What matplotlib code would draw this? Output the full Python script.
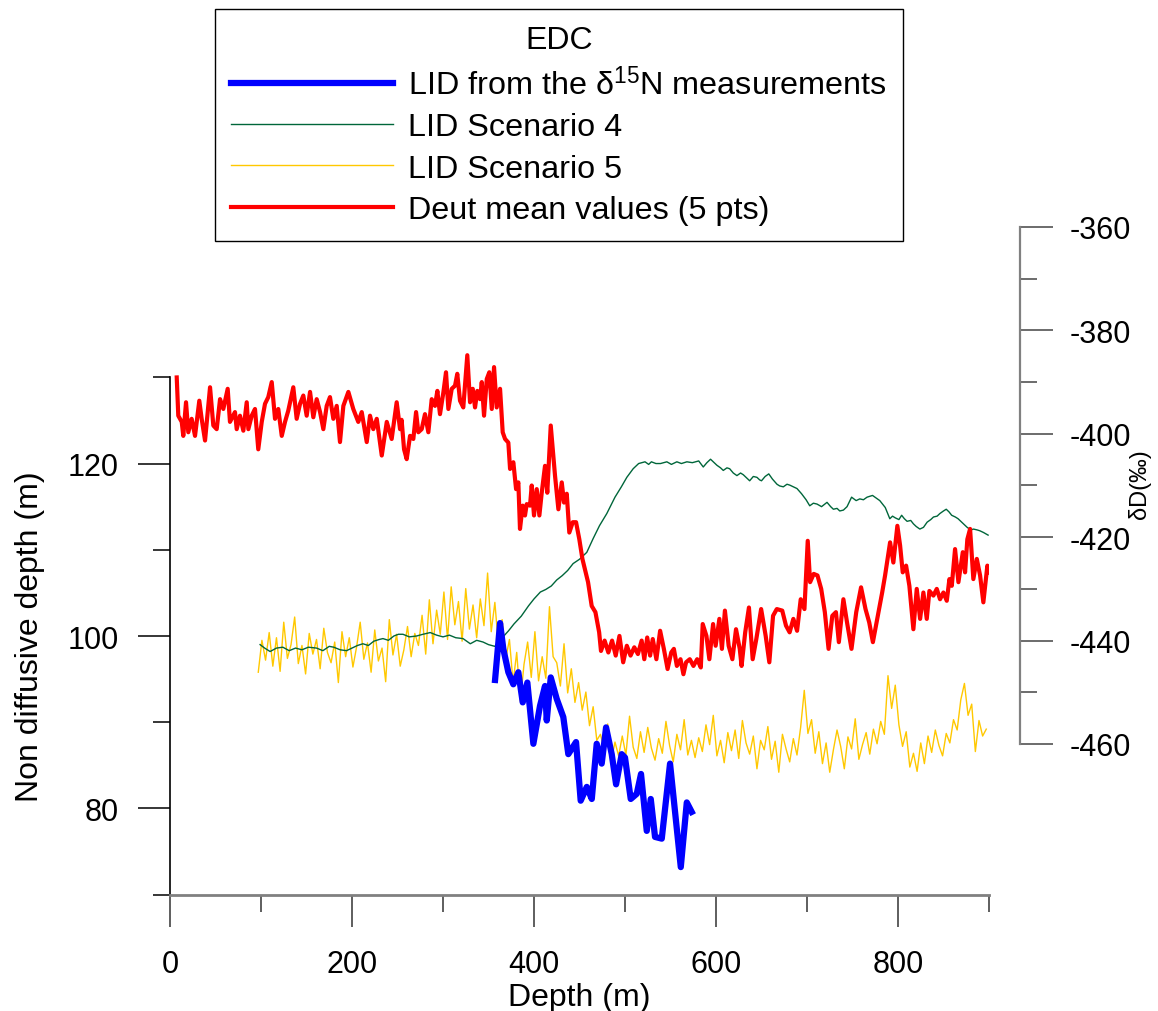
import numpy as np
import matplotlib
matplotlib.use('Agg')
import matplotlib.pyplot as plt

plt.rcParams['font.family'] = ['Liberation Sans', 'DejaVu Sans']
plt.rcParams['mathtext.fontset'] = 'custom'
plt.rcParams['mathtext.rm'] = 'Liberation Sans'
plt.rcParams['mathtext.it'] = 'Liberation Sans:italic'
plt.rcParams['axes.unicode_minus'] = False

# ---- data (depth in m) ----
red_depth = [
    7.4, 9.1, 12.9, 14.6, 17.6, 20.1, 23.8, 27.5, 32.2, 34.8,
    38.5, 44.0, 47.6, 51.3, 55.0, 58.6, 63.4, 65.9, 71.4, 73.3,
    76.9, 80.6, 84.3, 86.1, 89.8, 93.4, 97.0, 100.8, 104.4, 108.0,
    111.8, 115.4, 119.0, 122.8, 126.4, 130.0, 135.5, 139.2, 142.9, 146.5,
    150.2, 153.9, 157.5, 161.2, 164.9, 168.5, 172.2, 175.8, 179.5, 183.2,
    186.8, 190.5, 196.0, 201.4, 206.9, 210.7, 216.2, 219.8, 223.4, 227.2,
    232.7, 238.2, 243.6, 249.1, 252.8,
    254.5, 257.2, 260.1, 263.8, 267.4, 270.4, 272.9, 276.6, 280.2, 283.9,
    287.6, 291.2, 293.8, 296.7, 300.4, 303.3, 305.9, 309.6, 313.2, 315.7,
    318.7, 322.3, 326.7, 329.7, 332.7, 335.2, 337.7, 340.7, 342.6, 345.1,
    348.1, 350.9, 353.6, 356.1, 359.0, 362.7, 365.6, 368.2, 371.8, 373.7,
    377.3, 380.3, 382.8, 384.6, 387.6, 390.1, 392.0, 395.6, 397.5, 400.0,
    403.0, 405.9, 408.5, 412.1, 414.6, 418.4, 420.6, 423.1, 426.8, 430.5,
    433.0, 436.0, 438.8, 442.6, 446.2, 449.8,
    453.2, 459.4, 463.4, 467.5, 471.6, 473.6, 477.6, 481.7, 485.8, 489.8,
    493.9, 498.0, 502.0, 506.1, 510.2, 514.2, 518.3, 521.2, 524.4, 527.6,
    530.5, 534.5, 538.6, 542.7, 546.8, 550.8, 553.7, 557.0, 561.0, 564.2,
    567.1, 571.2, 575.2, 579.3, 583.3,
    585.4, 589.5, 592.7, 596.8, 599.6, 603.7, 606.5, 609.8, 613.9, 618.0,
    622.0, 626.1, 628.1, 632.1, 636.2, 640.3, 644.3, 649.6, 654.6, 658.6,
    662.7, 666.8, 672.8, 676.9, 680.9, 685.0, 689.1, 693.1, 697.2,
    700.8, 703.4, 707.4, 711.5, 715.6, 719.6, 723.7, 727.8, 731.8, 735.0,
    740.0, 744.0, 748.9, 754.1, 759.4, 764.3, 768.4, 772.4, 776.4, 782.6,
    785.8, 791.3, 794.9, 799.3, 802.3, 805.2, 808.9, 812.5, 816.9, 820.6,
    824.3, 827.9, 831.6, 834.5, 838.9, 842.6, 846.2, 849.9, 853.6, 856.5,
    859.1, 862.7, 866.4, 871.2, 873.7, 876.2, 879.2, 882.8, 886.6, 890.2,
    893.8, 898.2, 899.3,
]
red_dD = [
    -389.1, -396.5, -397.7, -400.4, -393.9, -399.7, -397.1, -400.4, -393.6, -397.1,
    -401.3, -391.0, -398.4, -399.1, -393.3, -395.2, -391.3, -397.7, -395.8, -399.1,
    -396.5, -399.4, -393.9, -399.1, -396.5, -395.2, -403.0, -397.7, -394.2, -392.9,
    -390.0, -397.1, -395.2, -400.4, -397.7, -395.5, -391.0, -397.1, -394.2, -392.6,
    -396.5, -391.9, -396.8, -393.3, -395.8, -399.1, -394.6, -392.9, -397.1, -394.6,
    -401.6, -394.6, -391.9, -395.2, -397.7, -395.8, -401.6, -396.5, -399.1, -397.1,
    -404.2, -397.7, -401.0, -393.9, -399.1,
    -397.3, -403.0, -404.9, -400.4, -401.0, -395.8, -399.7, -399.1, -396.2, -399.7,
    -393.3, -394.6, -391.7, -396.2, -392.0, -388.1, -395.2, -391.3, -390.7, -388.4,
    -393.6, -394.9, -384.8, -393.9, -391.3, -394.9, -391.7, -393.3, -390.0, -396.5,
    -389.4, -388.1, -395.2, -387.1, -394.9, -391.3, -399.7, -401.0, -401.7, -406.8,
    -405.5, -410.7, -409.4, -418.4, -413.9, -415.8, -413.6, -413.9, -410.0, -415.8,
    -410.7, -415.8, -411.4, -406.2, -411.4, -398.4, -403.0, -408.1, -414.6, -409.4,
    -413.3, -411.6, -419.1, -417.1, -417.1, -420.4,
    -424.2, -428.7, -433.3, -434.5, -438.4, -442.0, -440.0, -442.3, -440.0, -442.9,
    -439.1, -444.2, -441.0, -442.9, -441.3, -442.6, -440.0, -443.6, -439.4, -442.9,
    -439.7, -443.6, -438.1, -441.6, -445.5, -442.3, -441.6, -444.9, -443.6, -446.5,
    -444.2, -443.6, -444.9, -443.6, -445.2,
    -436.8, -439.1, -443.6, -436.8, -441.0, -435.8, -441.6, -434.2, -441.0, -443.6,
    -437.8, -441.6, -444.9, -438.4, -433.6, -443.6, -439.7, -433.9, -439.1, -444.2,
    -435.2, -433.9, -434.2, -437.1, -438.4, -435.8, -438.1, -432.0, -433.9,
    -420.7, -428.7, -427.1, -427.4, -430.0, -434.5, -441.6, -435.2, -434.5, -440.3,
    -432.0, -436.5, -441.6, -434.5, -429.7, -433.9, -436.5, -440.3, -436.5, -430.7,
    -427.4, -421.0, -424.9, -417.8, -421.6, -426.8, -425.5, -429.4, -437.8, -430.0,
    -435.8, -430.7, -435.8, -430.4, -431.3, -430.0, -432.0, -430.7, -432.3, -428.1,
    -429.4, -422.3, -428.7, -422.9, -426.8, -420.4, -418.4, -428.1, -424.2, -427.4,
    -432.6, -425.5, -426.8,
]

blue_depth = [357.2, 362.7, 366.3, 371.8, 377.3, 382.8, 387.6, 392.7, 399.3, 406.6,
              412.1, 414.0, 418.4, 425.0, 432.2, 437.7, 446.2, 451.3, 458.0, 463.5,
              468.9, 474.4, 479.2, 485.4, 490.2, 496.4, 500.0, 506.3, 512.9, 517.6,
              523.9, 528.3, 533.0, 540.4, 549.5, 561.3, 567.9, 573.3]
blue_lid = [94.9, 101.5, 98.5, 95.8, 94.4, 95.8, 92.3, 94.6, 87.5, 91.9,
            94.2, 90.2, 95.2, 92.7, 90.6, 86.3, 87.7, 80.9, 82.5, 81.1,
            87.5, 85.2, 89.4, 86.3, 82.8, 86.3, 85.9, 81.1, 81.7, 84.0,
            77.4, 81.1, 76.7, 76.5, 85.2, 73.2, 80.7, 79.6]

green_depth = [
    99, 104, 110, 117, 124, 131, 138, 145, 152, 161,
    168, 175, 180, 187, 194, 200, 206, 212, 218, 224,
    230, 234, 240, 246, 251, 256, 263, 271, 278, 286,
    293, 300, 307, 314, 322, 330, 337, 344, 350, 357,
    362, 366, 372, 378, 386, 394, 400, 407, 413, 419,
    425, 431, 437, 443, 450, 454, 458, 465, 472, 480,
    489, 496, 502, 509, 515, 522, 526, 529, 534, 539,
    546, 551, 557, 562, 568, 574, 581, 586, 590, 594,
    598, 601, 605, 608, 612, 615, 619, 623, 627, 630,
    634, 637, 641, 645, 648, 650, 654, 658, 662, 667,
    670, 674, 678, 681, 685, 689, 694, 699, 703, 707,
    711, 716, 722, 726, 729, 733, 736, 740, 744, 749,
    754, 758, 762, 766, 772, 776, 780, 786, 791, 794,
    797, 801, 804, 807, 810, 814, 817, 820, 824, 828,
    832, 836, 839, 843, 846, 850, 853, 856, 859, 863,
    866, 870, 876, 880, 883, 887, 890, 894, 899,
]
green_lid = [
    99.0, 98.6, 98.2, 98.6, 98.7, 98.3, 98.6, 98.4, 98.7, 98.6,
    98.3, 98.8, 98.7, 98.4, 98.3, 98.6, 98.9, 99.1, 98.9, 99.4,
    99.6, 99.7, 99.5, 100.0, 100.2, 100.2, 99.9, 100.0, 100.2, 100.4,
    100.1, 99.9, 100.1, 99.8, 99.7, 99.1, 99.5, 99.3, 99.0, 98.8,
    99.4, 99.9, 100.6, 101.4, 102.3, 103.5, 104.3, 105.1, 105.4, 105.8,
    106.5, 107.0, 107.6, 108.4, 108.9, 109.3, 109.7, 111.3, 112.8, 114.2,
    116.1, 117.3, 118.4, 119.4, 120.0, 120.2, 119.9, 120.2, 120.0, 120.0,
    120.2, 119.9, 120.2, 120.0, 120.2, 120.1, 120.3, 119.6, 120.1, 120.5,
    120.1, 119.8, 119.5, 119.2, 119.5, 119.4, 118.9, 118.6, 118.9, 118.7,
    118.3, 118.0, 118.5, 118.4, 118.1, 118.0, 118.5, 118.8, 118.2, 117.6,
    117.4, 117.3, 117.6, 117.5, 117.3, 117.1, 116.5, 115.8, 115.1, 115.4,
    115.3, 115.0, 115.5, 115.0, 114.7, 114.8, 114.5, 114.6, 115.0, 116.1,
    115.7, 115.9, 115.8, 116.1, 116.3, 116.0, 115.7, 114.9, 113.6, 113.9,
    113.7, 113.5, 114.0, 113.6, 113.3, 113.4, 113.0, 112.7, 112.4, 112.6,
    113.2, 113.5, 113.8, 113.9, 114.2, 114.5, 114.7, 114.4, 114.0, 113.8,
    113.6, 113.2, 112.6, 112.3, 112.4, 112.3, 112.2, 112.0, 111.7,
]

# scenario 5 sampled every 4 m from 97 m
yellow_depth = np.arange(97, 898, 4)
yellow_lid = [
    95.8, 99.5, 97.2, 100.4, 96.5, 99.8, 95.9, 101.6, 97.4, 99.0,
    102.2, 96.8, 98.9, 95.6, 100.3, 97.9, 99.6, 96.2, 100.9, 98.1,
    96.9, 99.3, 94.6, 100.5, 97.6, 99.8, 96.4, 98.7, 101.6, 97.3,
    99.2, 95.8, 100.7, 97.1, 98.6, 94.7, 101.9, 97.8, 100.2, 96.5,
    98.4, 101.1, 97.6, 100.3, 98.9, 102.4, 97.9, 104.2, 99.1, 103.0,
    100.2, 105.1, 99.6, 105.7, 101.3, 104.0, 99.4, 105.5, 100.8, 103.6,
    99.8, 104.3, 101.2, 107.3, 100.5, 103.9, 98.8, 101.9, 97.4, 99.6,
    94.6, 98.1, 92.4, 96.7, 99.3, 95.2, 100.5, 94.8, 97.6, 95.1,
    103.4, 97.6, 96.9, 94.2, 99.1, 93.4, 96.2, 92.3, 94.6, 91.4,
    93.5, 89.6, 91.8, 87.9, 88.6, 86.9, 89.8, 85.6, 87.7, 86.1,
    88.4, 86.2, 90.7, 87.1, 85.8, 88.9, 86.5, 89.4, 87.0, 85.6,
    88.1, 86.4, 90.1, 87.3, 85.4, 88.6, 86.8, 90.3, 86.2, 87.9,
    85.9, 88.2, 86.6, 89.7, 87.4, 90.8, 86.1, 87.9, 85.3, 88.8,
    86.7, 89.1, 85.8, 90.2, 87.6, 86.3, 88.4, 84.6, 87.9, 86.8,
    89.5, 85.7, 87.8, 84.2, 88.6, 86.9, 85.4, 88.1, 86.2, 89.4,
    93.7, 88.7, 90.3, 86.4, 88.9, 85.2, 87.6, 84.2, 86.8, 89.1,
    87.2, 84.6, 88.3, 86.9, 90.4, 85.7, 87.4, 88.8, 86.3, 89.2,
    87.5, 90.1, 88.6, 95.4, 91.6, 94.3, 89.7, 87.2, 88.9, 84.8,
    86.4, 84.3, 87.6, 85.2, 88.4, 86.5, 89.1, 87.3, 86.1, 88.7,
    87.6, 90.3, 89.1, 92.6, 94.5, 90.8, 92.1, 86.6, 90.2, 88.4,
    89.2,
]

legend_title = 'EDC'
labels = ['LID from the δ$^{15}$N measurements', 'LID Scenario 4',
          'LID Scenario 5', 'Deut mean values (5 pts)']

# ---- figure ----
W, H = 1158, 1012
fig = plt.figure(figsize=(W / 100, H / 100), dpi=100)
ax = fig.add_axes([170 / W, 1 - 895.7 / H, 819 / W, (895.7 - 228) / H])
ax2 = ax.twinx()

ln_y, = ax.plot(yellow_depth, yellow_lid, color='#ffc800', lw=1.0, zorder=2)
ln_g, = ax.plot(green_depth, green_lid, color='#00663a', lw=1.0, zorder=3)
ln_b, = ax.plot(blue_depth, blue_lid, color='#0000ff', lw=4.5, zorder=4,
                solid_joinstyle='round')
ln_r, = ax2.plot(red_depth, red_dD, color='#ff0000', lw=3.0, solid_joinstyle='round')

ax.set_xlim(0, 900)
ax.set_ylim(70, 147.43)
ax2.set_ylim(-489.15, -360)

tick_kw = dict(direction='out', labelsize=22)
ax.set_xticks(range(0, 801, 200))
ax.set_xticks(range(100, 901, 200), minor=True)
ax.set_yticks([80, 100, 120])
ax.set_yticks([70, 90, 110, 130], minor=True)
ax.tick_params(which='major', length=23, width=1.1, pad=14, **tick_kw)
ax.tick_params(which='minor', length=12, width=1.1)
ax.tick_params(axis='x', which='major', pad=16, colors='#333333', labelcolor='black')
ax.tick_params(axis='x', which='minor', colors='#333333')

ax2.set_yticks(range(-460, -359, 20))
ax2.set_yticks(range(-450, -369, 20), minor=True)
ax2.tick_params(which='major', length=24, width=1.1, pad=12, colors='#444444',
                labelcolor='black', **tick_kw)
ax2.tick_params(which='minor', length=12, width=1.1, colors='#444444')

for s in ['top', 'right']:
    ax.spines[s].set_visible(False)
ax.spines['left'].set_bounds(70, 130)
ax.spines['left'].set_linewidth(1.2)
ax.spines['bottom'].set_bounds(0, 900)
ax.spines['bottom'].set_color('#808080')
ax.spines['bottom'].set_linewidth(2.0)
for s in ['top', 'left', 'bottom']:
    ax2.spines[s].set_visible(False)
ax2.spines['right'].set_position(('outward', 22.3))
ax2.spines['right'].set_bounds(-460, -360)
ax2.spines['right'].set_color('#808080')
ax2.spines['right'].set_linewidth(1.6)

ax.set_xlabel('Depth (m)', fontsize=23, labelpad=2)
fig.text(30 / W, 1 - 637 / H, 'Non diffusive depth (m)', rotation=90,
         fontsize=23, ha='center', va='center')
fig.text(1140 / W, 1 - 484 / H, 'δD(‰)', rotation=90, fontsize=17,
         ha='center', va='center')

leg = fig.legend([ln_b, ln_g, ln_y, ln_r], labels, title=legend_title,
                 loc='upper left', bbox_to_anchor=(215 / W, 1 - 10 / H),
                 fontsize=23.3, title_fontsize=23, frameon=True, fancybox=False,
                 edgecolor='black', framealpha=1, borderpad=0.5,
                 handlelength=5.0, handletextpad=0.45, labelspacing=0.35,
                 borderaxespad=0)
leg.get_frame().set_linewidth(1.0)

fig.savefig('out.png', dpi=100)
